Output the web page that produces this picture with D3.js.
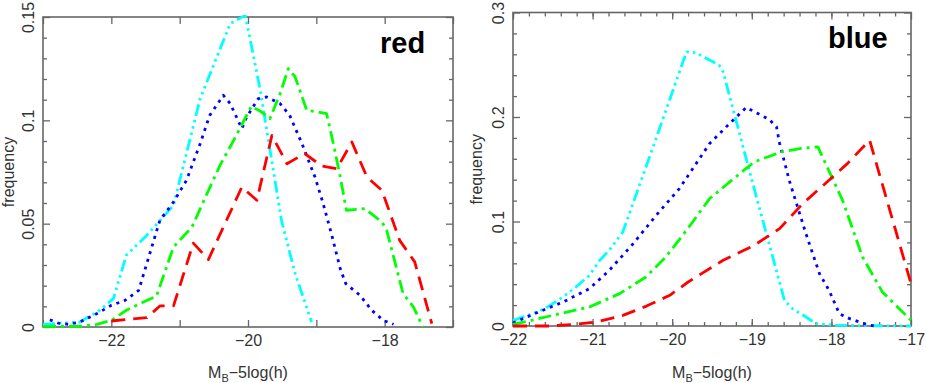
<!DOCTYPE html>
<html><head><meta charset="utf-8">
<script src="https://cdn.jsdelivr.net/npm/d3@7"></script>
<style>body{margin:0;background:#fff}svg{display:block}</style>
</head><body>
<svg id="c" width="926" height="383"></svg>
<script>
// ---------- DATA : panel "red" ----------
const redCyanX  = [-23.0,-22.46,-22.17,-21.97,-21.78,-21.48,-21.09,-20.70,-20.26,-20.04,-19.97,-19.82,-19.51,-19.31,-19.21,-19.07];
const redCyanY  = [0.0013,0.0024,0.0081,0.0137,0.0347,0.0444,0.0589,0.1105,0.1468,0.1508,0.1395,0.1145,0.0516,0.0258,0.0161,0.0024];
const redBlueX  = [-22.90,-22.78,-22.63,-22.46,-22.21,-22.0,-21.80,-21.60,-21.29,-21.09,-20.90,-20.70,-20.56,-20.36,-20.26,-20.09,-20.02,-19.85,-19.73,-19.53,-19.39,-19.21,-19.02,-18.90,-18.78,-18.65,-18.57,-18.36,-18.19,-18.02,-17.87];
const redBlueY  = [0.0035,0.0019,0.0013,0.0024,0.0065,0.0105,0.0129,0.0177,0.0516,0.0605,0.0710,0.0887,0.1024,0.1121,0.1081,0.0960,0.1016,0.1105,0.1113,0.1081,0.1024,0.0887,0.0726,0.0597,0.0452,0.0282,0.0210,0.0153,0.0081,0.0032,0.0013];
const redGreenX = [-23.0,-22.46,-22.21,-22.0,-21.78,-21.53,-21.34,-21.09,-20.82,-20.60,-20.41,-20.21,-20.02,-19.95,-19.80,-19.68,-19.53,-19.41,-19.31,-19.14,-18.97,-18.85,-18.75,-18.65,-18.56,-18.29,-18.04,-17.97,-17.73,-17.58,-17.44];
const redGreenY = [0.0003,0.0003,0.0013,0.0032,0.0081,0.0121,0.0149,0.0387,0.0484,0.0645,0.0782,0.0903,0.1024,0.1068,0.1040,0.1008,0.1129,0.1250,0.1210,0.1048,0.1040,0.1032,0.0887,0.0726,0.0565,0.0573,0.0508,0.0468,0.0161,0.0097,0.0];
const redRedX   = [-22.0,-21.48,-21.29,-21.09,-20.80,-20.58,-20.09,-19.87,-19.65,-19.43,-19.17,-18.92,-18.70,-18.48,-18.26,-18.04,-17.78,-17.56,-17.31];
const redRedY   = [0.0029,0.0045,0.0102,0.0102,0.0406,0.0326,0.0677,0.0613,0.0927,0.0790,0.0839,0.0779,0.0766,0.0895,0.0726,0.0661,0.0419,0.0315,0.0016];

// ---------- DATA : panel "blue" ----------
const blueCyanX  = [-22.0,-21.81,-21.60,-21.37,-21.21,-21.04,-20.91,-20.79,-20.62,-20.24,-19.82,-19.70,-19.41,-19.36,-19.01,-18.80,-18.59,-18.49,-18.32,-18.19,-17.94,-17.0];
const blueCyanY  = [0.0054,0.0102,0.0166,0.0278,0.0373,0.0485,0.0629,0.0725,0.0900,0.1714,0.2624,0.2614,0.2496,0.2432,0.1427,0.0836,0.0246,0.0166,0.0086,0.0022,0.0006,0.0];
const blueBlueX  = [-22.0,-21.71,-21.37,-21.04,-20.79,-20.49,-20.20,-19.91,-19.53,-19.28,-19.07,-18.78,-18.69,-18.65,-18.53,-18.32,-18.15,-18.03,-17.90,-17.77,-17.56,-17.46];
const blueBlueY  = [0.0029,0.0124,0.0230,0.0357,0.0533,0.0788,0.1060,0.1315,0.1746,0.1937,0.2091,0.1976,0.1906,0.1746,0.1395,0.0884,0.0501,0.0342,0.0118,0.0070,0.0016,0.0];
const blueGreenX = [-22.0,-21.77,-21.41,-21.04,-20.66,-20.33,-20.08,-19.82,-19.53,-19.15,-18.97,-18.63,-18.40,-18.17,-17.86,-17.61,-17.36,-17.0];
const blueGreenY = [0.0016,0.0054,0.0118,0.0182,0.0310,0.0469,0.0661,0.0916,0.1219,0.1459,0.1570,0.1666,0.1698,0.1714,0.1203,0.0661,0.0326,0.0054];
const blueRedX   = [-22.0,-21.54,-21.23,-20.95,-20.62,-20.33,-20.03,-19.80,-19.36,-18.97,-18.65,-18.36,-18.03,-17.80,-17.52,-17.0];
const blueRedY   = [0.0,0.0,0.0016,0.0038,0.0102,0.0188,0.0294,0.0421,0.0629,0.0772,0.0932,0.1171,0.1395,0.1554,0.1778,0.0405];

// ---------- TICKS / LABELS ----------
const redXMajor  = [-23,-22,-21,-20,-19,-18,-17];
const redXLabels = [-22,-20,-18];
const redYMajor  = [0,0.05,0.1,0.15];
const redYMinor  = [0.01,0.02,0.03,0.04,0.06,0.07,0.08,0.09,0.11,0.12,0.13,0.14];
const blueXMajor = [-22,-21,-20,-19,-18,-17];
const blueXMinor = d3.range(-22,-17.0001,0.2);
const blueYMajor = [0,0.1,0.2,0.3];
const blueYMinor = [0.02,0.04,0.06,0.08,0.12,0.14,0.16,0.18,0.22,0.24,0.26,0.28];
const panelTitles = ["red","blue"];
const xTitleMain = "M", xTitleSub = "B", xTitleRest = "\u22125log(h)";
const yTitle = "frequency";

const seriesStyle = {
  cyan:  {color:"#00ffff", dash:"12,4,2.5,4,2.5,4,2.5,4"},
  blue:  {color:"#0000ff", dash:"3,5"},
  green: {color:"#00ff00", dash:"13,5,3,5"},
  red:   {color:"#ff0000", dash:"14,8"}
};

const svg = d3.select("#c");
const FONT = "'Liberation Sans', Arial, Helvetica, sans-serif";
const AX = "#666";

function zip(xs, ys){ return xs.map((v,i)=>[v, ys[i]]); }
const fmtX = d3.format("d");
const fmtY = d => d === 0 ? "0" : d3.format("~g")(d);

function drawPanel(cfg){
  const x = d3.scaleLinear().domain(cfg.xd).range([cfg.l, cfg.r]);
  const y = d3.scaleLinear().domain(cfg.yd).range([cfg.b, cfg.t]);
  const g = svg.append("g");

  const style = sel => {
    sel.select(".domain").remove();
    sel.selectAll("line").attr("stroke", AX).attr("stroke-width", 1.3);
    sel.selectAll("text").attr("font-family", FONT).attr("font-size", 16).attr("fill", "#333");
  };

  // bottom major with labels
  g.append("g").attr("transform", `translate(0,${cfg.b})`)
    .call(d3.axisBottom(x).tickValues(cfg.xMajor).tickSize(-7).tickPadding(7.6)
      .tickFormat(d => cfg.xLabels.includes(d) ? fmtX(d) : ""))
    .call(style);
  // top major
  g.append("g").attr("transform", `translate(0,${cfg.t})`)
    .call(d3.axisTop(x).tickValues(cfg.xMajor).tickSize(-7).tickFormat(""))
    .call(style);
  if (cfg.xMinor){
    g.append("g").attr("transform", `translate(0,${cfg.b})`)
      .call(d3.axisBottom(x).tickValues(cfg.xMinor).tickSize(-4).tickFormat("")).call(style);
    g.append("g").attr("transform", `translate(0,${cfg.t})`)
      .call(d3.axisTop(x).tickValues(cfg.xMinor).tickSize(-4).tickFormat("")).call(style);
  }
  // left major with rotated labels
  const gl = g.append("g").attr("transform", `translate(${cfg.l},0)`)
    .call(d3.axisLeft(y).tickValues(cfg.yMajor).tickSize(-7).tickFormat(fmtY))
    .call(style);
  gl.selectAll("text")
    .attr("x", 0).attr("dy", null)
    .attr("text-anchor", "middle")
    .attr("dominant-baseline", "central")
    .attr("transform", `translate(${cfg.labelX - cfg.l},0) rotate(-90)`);
  g.append("g").attr("transform", `translate(${cfg.r},0)`)
    .call(d3.axisRight(y).tickValues(cfg.yMajor).tickSize(-7).tickFormat("")).call(style);
  g.append("g").attr("transform", `translate(${cfg.l},0)`)
    .call(d3.axisLeft(y).tickValues(cfg.yMinor).tickSize(-4).tickFormat("")).call(style);
  g.append("g").attr("transform", `translate(${cfg.r},0)`)
    .call(d3.axisRight(y).tickValues(cfg.yMinor).tickSize(-4).tickFormat("")).call(style);

  // frame
  g.append("rect").attr("x", cfg.l).attr("y", cfg.t)
    .attr("width", cfg.r - cfg.l).attr("height", cfg.b - cfg.t)
    .attr("fill", "none").attr("stroke", AX).attr("stroke-width", 1.6);

  // clip
  const cid = "clip" + cfg.id;
  svg.append("clipPath").attr("id", cid).append("rect")
    .attr("x", cfg.l - 2).attr("y", cfg.t - 2)
    .attr("width", cfg.r - cfg.l + 4).attr("height", cfg.b - cfg.t + 4);

  const line = d3.line().x(d => x(d[0])).y(d => y(d[1]));
  const gs = g.append("g").attr("clip-path", `url(#${cid})`);
  cfg.series.forEach(s => {
    const st = seriesStyle[s.key];
    gs.append("path").datum(zip(s.x, s.y))
      .attr("d", line).attr("fill", "none")
      .attr("stroke", st.color).attr("stroke-width", 2.8)
      .attr("stroke-dasharray", st.dash)
      .attr("stroke-linejoin", "round");
  });

  // x title
  const xt = g.append("text").attr("x", (cfg.l + cfg.r) / 2).attr("y", 377.5)
    .attr("text-anchor", "middle").attr("font-family", FONT).attr("font-size", 16).attr("fill", "#333");
  xt.append("tspan").text(xTitleMain);
  xt.append("tspan").attr("font-size", 11).attr("dy", 4).text(xTitleSub);
  xt.append("tspan").attr("dy", -4).text(xTitleRest);

  // y title
  g.append("text").attr("transform", `translate(${cfg.yTitleX},${(cfg.t + cfg.b) / 2}) rotate(-90)`)
    .attr("text-anchor", "middle").attr("font-family", FONT).attr("font-size", 16).attr("fill", "#333")
    .text(yTitle);

  // panel title
  g.append("text").attr("x", cfg.titleX).attr("y", cfg.titleY)
    .attr("font-family", FONT).attr("font-size", 29).attr("font-weight", "bold").attr("fill", "#000")
    .text(cfg.title);
}

drawPanel({
  id: "L", l: 43, r: 453, t: 17, b: 327,
  xd: [-23, -17], yd: [0, 0.15],
  xMajor: redXMajor, xLabels: redXLabels, xMinor: null,
  yMajor: redYMajor, yMinor: redYMinor,
  labelX: 28, yTitleX: 13.5,
  title: panelTitles[0], titleX: 380, titleY: 53,
  series: [
    {key: "cyan",  x: redCyanX,  y: redCyanY},
    {key: "blue",  x: redBlueX,  y: redBlueY},
    {key: "green", x: redGreenX, y: redGreenY},
    {key: "red",   x: redRedX,   y: redRedY}
  ]
});

drawPanel({
  id: "R", l: 513, r: 911, t: 12.5, b: 326,
  xd: [-22, -17], yd: [0, 0.3],
  xMajor: blueXMajor, xLabels: blueXMajor, xMinor: blueXMinor,
  yMajor: blueYMajor, yMinor: blueYMinor,
  labelX: 498.5, yTitleX: 482,
  title: panelTitles[1], titleX: 828, titleY: 48,
  series: [
    {key: "cyan",  x: blueCyanX,  y: blueCyanY},
    {key: "blue",  x: blueBlueX,  y: blueBlueY},
    {key: "green", x: blueGreenX, y: blueGreenY},
    {key: "red",   x: blueRedX,   y: blueRedY}
  ]
});
</script>
</body></html>
